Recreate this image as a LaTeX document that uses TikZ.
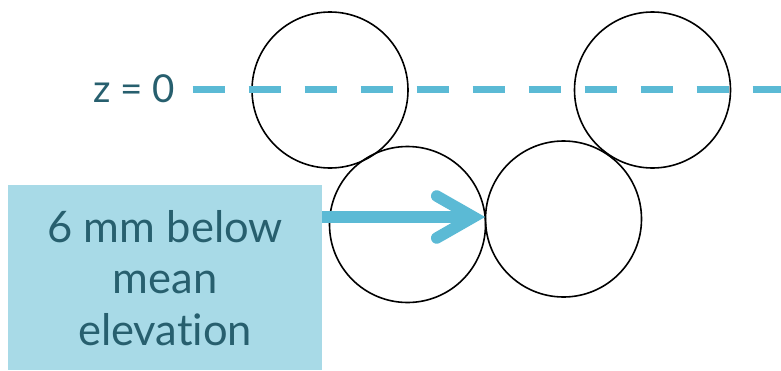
\documentclass[tikz,border=0pt]{standalone}
\usepackage{fontspec}
\setmainfont{Lato}[Ligatures={NoCommon}]
\definecolor{linecol}{HTML}{5BBAD5}
\definecolor{boxcol}{HTML}{A8DAE7}
\definecolor{txtcol}{HTML}{275F6E}
\tikzset{
  ball/.style={circle, draw=black, line width=1.6pt, minimum size=156pt, inner sep=0pt},
  infobox/.style={fill=boxcol, draw=none, minimum width=314pt, minimum height=185pt, inner sep=0pt, text=txtcol, align=center, font=\fontsize{43.5}{51.5}\selectfont},
  dashline/.style={draw=linecol, line width=7pt, dash pattern=on 32pt off 24pt},
  arrowline/.style={draw=linecol, line width=11.5pt},
  chevron/.style={draw=linecol, line width=11.5pt, line cap=round, line join=miter, miter limit=10}
}
\begin{document}
\begin{tikzpicture}[x=1pt,y=-1pt]
\useasboundingbox (0,0) rectangle (781,370);
\node[ball] (c1) at (330,90) {};
\node[ball] (c2) at (407.5,224.5) {};
\node[ball] (c3) at (563.5,219) {};
\node[ball] (c4) at (652.5,90) {};
\node[anchor=east, inner sep=0pt, text=txtcol, font=\fontsize{38.5}{42}\selectfont] (z) at (175,89) {z = 0};
\coordinate (L0) at (192.7,89);
\coordinate (L1) at (781,89);
\draw[dashline] (L0) -- (L1);
\node[infobox, anchor=north west] (b) at (8,185) {6 mm below\\mean\\elevat\kern0pt ion};
\coordinate (tip) at (485,217);
\coordinate (vtx) at (473.5,217);
\coordinate (armA) at (436.7,196);
\coordinate (armB) at (436.7,238);
\draw[arrowline] (b.east |- tip) -- (vtx);
\draw[chevron] (armA) -- (vtx) -- (armB);
\end{tikzpicture}
\end{document}
